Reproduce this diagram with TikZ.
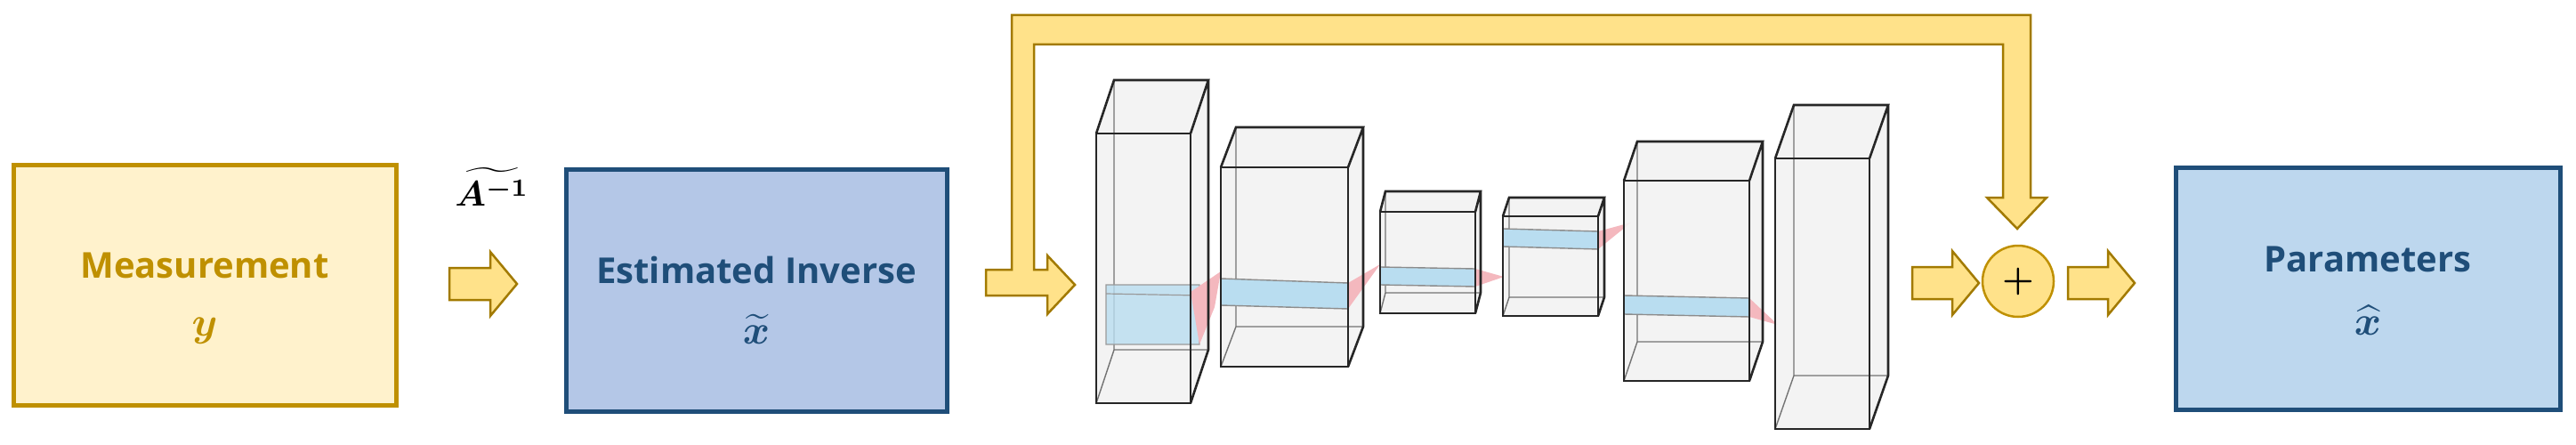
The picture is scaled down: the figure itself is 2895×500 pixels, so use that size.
\documentclass[tikz,border=0pt]{standalone}
\usepackage{graphicx}
\usepackage{bm}
\usepackage{fontspec}
\newfontfamily\osans{Open Sans}
\usetikzlibrary{shapes.geometric}
\definecolor{goldline}{HTML}{BF9000}
\definecolor{goldfill}{HTML}{FFF2CC}
\definecolor{arrfill}{HTML}{FFE28A}
\definecolor{navy}{HTML}{1F4E79}
\definecolor{bluefill}{HTML}{B4C7E7}
\definecolor{bluefill2}{HTML}{BDD7EE}
\definecolor{stripblue}{HTML}{B9DDF0}
\definecolor{pinkc}{HTML}{F4B8BE}
\tikzset{
  goldbox/.style={draw=goldline,line width=5pt,fill=goldfill,minimum width=430pt,minimum height=270pt,inner sep=0pt},
  bluebox/.style={draw=navy,line width=5pt,fill=bluefill,minimum width=428pt,minimum height=272pt,inner sep=0pt},
  fatarr/.style={draw=goldline!85!black,line width=2.5pt,fill=arrfill,line join=miter},
  lbl/.style={font=\osans\bfseries\fontsize{40}{48}\selectfont},
  edgefront/.style={draw=black!85,line width=2.6pt},
  edgeback/.style={draw=black!55,line width=1.4pt},
}
% cube: x1 x2 ytop ybot dx dy
\newcommand\mycube[6]{%
  \fill[black!5,opacity=0.9] (#1,#3) -- (#1+#5,#3-#6) -- (#2+#5,#3-#6) -- (#2+#5,#4-#6) -- (#2,#4) -- (#1,#4) -- cycle;
  \draw[edgeback] (#1+#5,#3-#6) -- (#1+#5,#4-#6) -- (#2+#5,#4-#6) (#1,#4) -- (#1+#5,#4-#6);
}
\newcommand\mycubefront[6]{%
  \draw[edgefront] (#1,#3) -- (#2,#3) -- (#2,#4) -- (#1,#4) -- cycle;
  \draw[edgefront] (#1,#3) -- (#1+#5,#3-#6) -- (#2+#5,#3-#6) -- (#2,#3) (#2+#5,#3-#6) -- (#2+#5,#4-#6) -- (#2,#4);
}
% fat arrow: x1 x2 ymid
\newcommand\fatarrow[3]{%
  \draw[fatarr] (#1,#3-18) -- (#2-30,#3-18) -- (#2-30,#3-36) -- (#2,#3) -- (#2-30,#3+36) -- (#2-30,#3+18) -- (#1,#3+18) -- cycle;
}
\begin{document}
\begin{tikzpicture}[x=1pt,y=-1pt]
\useasboundingbox (0,0) rectangle (2895,500);
\fill[white] (0,0) rectangle (2895,500);

% boxes
\node[goldbox] (meas) at (230,320) {};
\node[lbl,text=goldline] at (230,298) {Measurement};
\node[text=goldline] at (230,372) {\scalebox{4.6}{$\bm{y}$}};

\node[bluebox] (est) at (850,326) {};
\node[lbl,text=navy] at (850,303) {Estimated Inverse};
\node[text=navy] at (850,370) {\scalebox{4.6}{$\bm{\widetilde{x}}$}};

\node[bluebox,fill=bluefill2,minimum width=432pt,minimum height=272pt] (par) at (2661,324) {};
\node[lbl,text=navy] at (2661,291) {Parameters};
\node[text=navy] at (2661,360) {\scalebox{4.6}{$\bm{\widehat{x}}$}};

\node (ainv) at (553,210) {\scalebox{4}{$\bm{\widetilde{A^{-1}}}$}};

% fat arrows
\fatarrow{505}{581}{319}
\fatarrow{2149}{2224}{318}
\fatarrow{2324}{2399}{318}

% skip connection
\draw[fatarr] (1108,332) -- (1177,332) -- (1177,353) -- (1208,320) -- (1177,287) -- (1177,303) -- (1162,303) -- (1162,50) -- (2251,50) -- (2251,222) -- (2233,222) -- (2267,257) -- (2300,222) -- (2282,222) -- (2282,17) -- (1137,17) -- (1137,303) -- (1108,303) -- cycle;

% sum node
\node[circle,draw=goldline,line width=2.5pt,fill=arrfill,minimum size=80pt,inner sep=0pt] (sum) at (2268,316) {\scalebox{4}{$\bm{+}$}};

% cubes
\mycube{1232}{1338}{150}{453}{20}{60}
\fill[stripblue,opacity=0.8] (1243,320) rectangle (1348,387);
\draw[black!40,line width=1.2pt] (1243,320) rectangle (1348,387) (1243,330)--(1348,332);
\fill[pinkc] (1338,328) -- (1372,305) -- (1365,345) -- (1348,387) -- cycle;
\mycubefront{1232}{1338}{150}{453}{20}{60}

\mycube{1372}{1515}{188}{412}{17}{45}
\fill[stripblue] (1372,313) -- (1515,318) -- (1515,347) -- (1372,343) -- cycle;
\draw[black!45,line width=1.4pt] (1372,313) -- (1515,318) (1372,343) -- (1515,347);
\fill[pinkc] (1515,318) -- (1551,297) -- (1515,347) -- cycle;
\mycubefront{1372}{1515}{188}{412}{17}{45}

\mycube{1551}{1658}{238}{352}{6}{23}
\fill[stripblue] (1551,300) -- (1658,302) -- (1658,322) -- (1551,320) -- cycle;
\draw[black!45,line width=1.4pt] (1551,300) -- (1658,302) (1551,320) -- (1658,322);
\fill[pinkc] (1658,302) -- (1690,311) -- (1658,322) -- cycle;
\mycubefront{1551}{1658}{238}{352}{6}{23}

\mycube{1689}{1796}{243}{355}{7}{21}
\fill[stripblue] (1689,257) -- (1796,260) -- (1796,280) -- (1689,277) -- cycle;
\draw[black!45,line width=1.4pt] (1689,257) -- (1796,260) (1689,277) -- (1796,280);
\fill[pinkc] (1796,260) -- (1833,250) -- (1796,280) -- cycle;
\mycubefront{1689}{1796}{243}{355}{7}{21}

\mycube{1825}{1966}{203}{428}{15}{44}
\fill[stripblue] (1825,332) -- (1966,335) -- (1966,356) -- (1825,353) -- cycle;
\draw[black!45,line width=1.4pt] (1825,332) -- (1966,335) (1825,353) -- (1966,356);
\fill[pinkc] (1966,335) -- (1998,365) -- (1966,356) -- cycle;
\mycubefront{1825}{1966}{203}{428}{15}{44}

\mycube{1995}{2101}{178}{482}{21}{60}
\mycubefront{1995}{2101}{178}{482}{21}{60}
\end{tikzpicture}
\end{document}
